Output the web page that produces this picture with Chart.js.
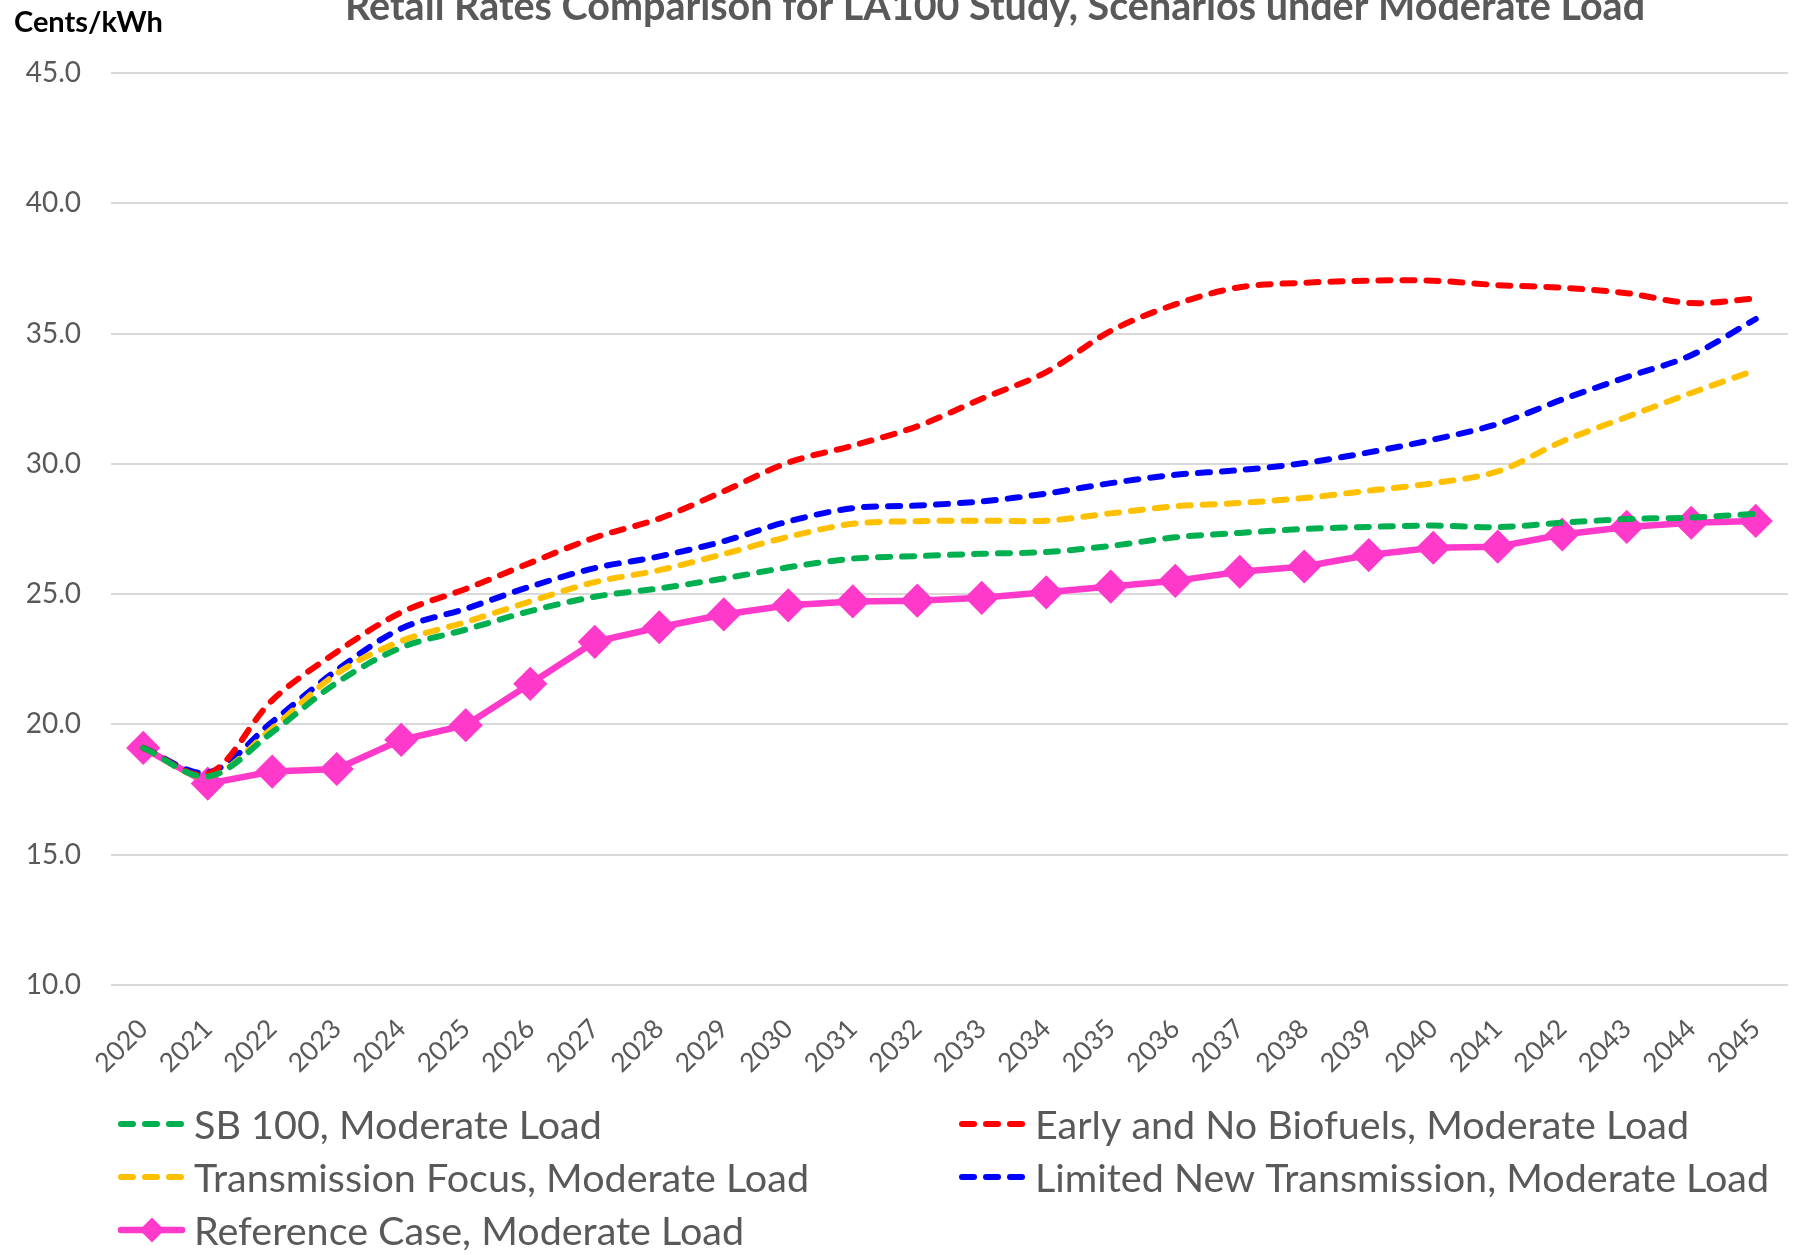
<!DOCTYPE html>
<html>
<head>
<meta charset="utf-8">
<script src="https://cdn.jsdelivr.net/npm/chart.js@4.4.1/dist/chart.umd.min.js"></script>
<style>
  html, body { margin: 0; padding: 0; background: #fff; }
  #wrap { width: 1794px; height: 1255px; }
</style>
</head>
<body>
<div id="wrap"><canvas id="chart" width="1794" height="1255"></canvas></div>
<script>
// years on the category axis
var years = ["2020", "2021", "2022", "2023", "2024", "2025", "2026", "2027", "2028", "2029", "2030", "2031", "2032",
    "2033", "2034", "2035", "2036", "2037", "2038", "2039", "2040", "2041", "2042", "2043", "2044", "2045"];

// cents/kWh
var sb100 = [19.1, 18.0, 19.7, 21.6, 22.95, 23.64, 24.35, 24.9, 25.22, 25.6, 26.03, 26.36, 26.46,
    26.55, 26.62, 26.85, 27.18, 27.35, 27.5, 27.58, 27.63, 27.57, 27.74, 27.88, 27.94, 28.08];
var earlyNoBio = [19.1, 18.1, 20.93, 22.78, 24.3, 25.2, 26.2, 27.17, 27.9, 28.95, 30.05, 30.7, 31.44,
    32.5, 33.52, 35.1, 36.12, 36.78, 36.95, 37.03, 37.03, 36.86, 36.76, 36.55, 36.17, 36.35];
var transFocus = [19.1, 18.0, 19.85, 21.95, 23.2, 23.93, 24.72, 25.46, 25.92, 26.54, 27.2, 27.7, 27.8,
    27.82, 27.82, 28.1, 28.37, 28.5, 28.69, 28.97, 29.26, 29.71, 30.86, 31.8, 32.72, 33.6];
var limitedTrans = [19.1, 18.15, 20.1, 22.08, 23.68, 24.44, 25.29, 26.0, 26.45, 27.03, 27.79, 28.3, 28.4,
    28.56, 28.86, 29.26, 29.58, 29.76, 30.03, 30.44, 30.93, 31.53, 32.47, 33.33, 34.17, 35.56];
var referenceCase = [19.1, 17.73, 18.19, 18.29, 19.41, 19.97, 21.56, 23.17, 23.73, 24.22, 24.57, 24.72, 24.75,
    24.86, 25.07, 25.29, 25.51, 25.86, 26.06, 26.5, 26.78, 26.82, 27.29, 27.58, 27.74, 27.81];

var yTicks = [10, 15, 20, 25, 30, 35, 40, 45];

var FONT = "Lato, 'Open Sans', sans-serif";
var GREY = "#595959";

function dashed(label, data, color) {
    return {
        label: label,
        data: data,
        borderColor: color,
        backgroundColor: color,
        borderWidth: 6,
        borderDash: [12, 12],
        borderCapStyle: "round",
        tension: 0.33,
        pointRadius: 0,
        fill: false
    };
}

// legend in two columns plus the clipped title and unit label
var decorations = {
    id: "decorations",
    afterDraw: function (chart) {
        var ctx = chart.ctx;
        ctx.save();
        ctx.fillStyle = GREY;
        ctx.font = "bold 39.5px " + FONT;
        ctx.textAlign = "center";
        ctx.textBaseline = "alphabetic";
        ctx.fillText("Retail Rates Comparison for LA100 Study, Scenarios under Moderate Load", 995, 20);

        ctx.fillStyle = "#000";
        ctx.font = "bold 29px " + FONT;
        ctx.textAlign = "left";
        ctx.fillText("Cents/kWh", 14, 32);

        var cols = [118, 959];
        var rows = [1124, 1177, 1230];
        ctx.font = "39.5px " + FONT;
        ctx.textBaseline = "middle";
        chart.data.datasets.forEach(function (ds, i) {
            var x = cols[i % 2], y = rows[Math.floor(i / 2)];
            ctx.strokeStyle = ds.borderColor;
            ctx.lineWidth = ds.borderWidth;
            ctx.lineCap = "round";
            ctx.setLineDash(ds.borderDash || []);
            ctx.beginPath();
            ctx.moveTo(x + 3, y);
            ctx.lineTo(x + 64, y);
            ctx.stroke();
            ctx.setLineDash([]);
            if (ds.pointRadius) {
                var r = ds.pointRadius;
                ctx.fillStyle = ds.borderColor;
                ctx.beginPath();
                ctx.moveTo(x + 34, y - r);
                ctx.lineTo(x + 34 + r, y);
                ctx.lineTo(x + 34, y + r);
                ctx.lineTo(x + 34 - r, y);
                ctx.closePath();
                ctx.fill();
            }
            ctx.fillStyle = GREY;
            ctx.fillText(ds.label, x + 76, y + 2);
        });
        ctx.restore();
    }
};

var ctx = document.getElementById("chart").getContext("2d");
new Chart(ctx, {
    type: "line",
    data: {
        labels: years,
        datasets: [
            dashed("SB 100, Moderate Load", sb100, "#00B050"),
            dashed("Early and No Biofuels, Moderate Load", earlyNoBio, "#FF0000"),
            dashed("Transmission Focus, Moderate Load", transFocus, "#FFC000"),
            dashed("Limited New Transmission, Moderate Load", limitedTrans, "#0000FF"),
            {
                label: "Reference Case, Moderate Load",
                data: referenceCase,
                borderColor: "#FF3ACB",
                backgroundColor: "#FF3ACB",
                borderWidth: 6.5,
                tension: 0,
                pointStyle: "rectRot",
                pointRadius: 12.5,
                pointHoverRadius: 12.5,
                fill: false
            }
        ]
    },
    options: {
        responsive: false,
        animation: false,
        layout: { autoPadding: false, padding: { top: 73, right: 6, left: 0, bottom: 0 } },
        plugins: {
            legend: { display: false },
            title: { display: false },
            tooltip: { enabled: false }
        },
        scales: {
            x: {
                offset: true,
                grid: { display: false, drawTicks: false },
                border: { display: false },
                ticks: {
                    color: GREY,
                    font: { family: FONT, size: 26.5 },
                    minRotation: 45,
                    maxRotation: 45,
                    padding: 28,
                    autoSkip: false
                },
                afterFit: function (scale) {
                    scale.height = 270;
                    scale.paddingRight = 0;
                    scale.paddingLeft = 0;
                }
            },
            y: {
                min: 10,
                max: 45,
                afterBuildTicks: function (scale) {
                    scale.ticks = yTicks.map(function (v) { return { value: v }; });
                },
                grid: { color: "#D9D9D9", lineWidth: 2, drawTicks: false },
                border: { display: false },
                ticks: {
                    color: GREY,
                    font: { family: FONT, size: 28 },
                    padding: 30,
                    callback: function (v) { return Number(v).toFixed(1); }
                },
                afterFit: function (scale) { scale.width = 111; }
            }
        }
    },
    plugins: [decorations]
});
</script>
</body>
</html>
